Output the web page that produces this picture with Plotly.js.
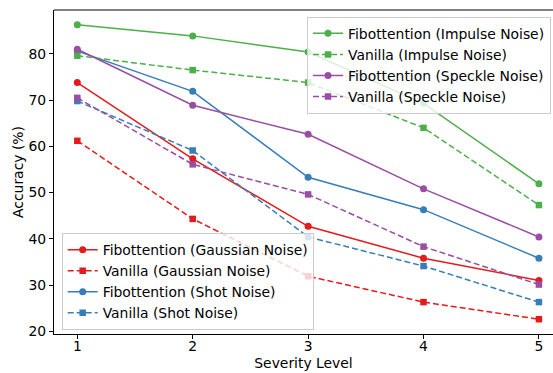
<!DOCTYPE html>
<html>
<head>
<meta charset="utf-8">
<script src="https://cdn.plot.ly/plotly-3.0.1.min.js"></script>
<style>html,body{margin:0;padding:0;background:#fff;}#chart{width:553px;height:373px;}</style>
</head>
<body>
<div id="chart"></div>
<script>
const severity = [1, 2, 3, 4, 5];
const tickVals = [1, 2, 3, 4, 5];
const tickText = ["1", "2", "3", "4", "5"];

const fibGaussian = [73.8, 57.3, 42.7, 35.8, 31.0];
const vanGaussian = [61.2, 44.3, 31.9, 26.3, 22.6];
const fibShot = [80.6, 71.9, 53.3, 46.3, 35.8];
const vanShot = [69.8, 59.1, 40.4, 34.1, 26.3];
const fibImpulse = [86.3, 83.9, 80.4, 69.3, 51.9];
const vanImpulse = [79.6, 76.5, 73.8, 64.0, 47.3];
const fibSpeckle = [81.0, 68.9, 62.6, 50.8, 40.4];
const vanSpeckle = [70.5, 56.1, 49.6, 38.3, 30.1];

const names = {
  fibGaussian: "Fibottention (Gaussian Noise)",
  vanGaussian: "Vanilla (Gaussian Noise)",
  fibShot: "Fibottention (Shot Noise)",
  vanShot: "Vanilla (Shot Noise)",
  fibImpulse: "Fibottention (Impulse Noise)",
  vanImpulse: "Vanilla (Impulse Noise)",
  fibSpeckle: "Fibottention (Speckle Noise)",
  vanSpeckle: "Vanilla (Speckle Noise)"
};

const RED = "#e41a1c", BLUE = "#377eb8", GREEN = "#4daf4a", PURPLE = "#984ea3";

function tr(y, name, color, vanilla, legend) {
  return {
    x: severity, y: y, name: name, type: "scatter", mode: "lines+markers",
    line: {color: color, width: 1.5, dash: vanilla ? "6px,3px" : "solid"},
    marker: {color: color, size: vanilla ? 6.5 : 7, symbol: vanilla ? "square" : "circle"},
    legend: legend
  };
}

const data = [
  tr(fibGaussian, names.fibGaussian, RED, false, "legend2"),
  tr(vanGaussian, names.vanGaussian, RED, true, "legend2"),
  tr(fibShot, names.fibShot, BLUE, false, "legend2"),
  tr(vanShot, names.vanShot, BLUE, true, "legend2"),
  tr(fibImpulse, names.fibImpulse, GREEN, false, "legend"),
  tr(vanImpulse, names.vanImpulse, GREEN, true, "legend"),
  tr(fibSpeckle, names.fibSpeckle, PURPLE, false, "legend"),
  tr(vanSpeckle, names.vanSpeckle, PURPLE, true, "legend")
];

const FONT = "DejaVu Sans, sans-serif";
const legendStyle = {
  bgcolor: "rgba(255,255,255,0.8)", bordercolor: "#cccccc", borderwidth: 1,
  font: {family: FONT, size: 13.9, color: "#000"}, tracegroupgap: 0
};

const layout = {
  width: 553, height: 373,
  margin: {l: 54, r: 0, t: 10, b: 39},
  paper_bgcolor: "#fff", plot_bgcolor: "#fff",
  font: {family: FONT, size: 13.9, color: "#000"},
  showlegend: true,
  xaxis: {
    range: [0.798, 5.122], tickvals: tickVals, ticktext: tickText,
    showgrid: false, zeroline: false, showline: true, linecolor: "#000", linewidth: 1,
    ticks: "outside", ticklen: 4, tickcolor: "#000", ticklabelstandoff: -5,
    title: {text: "Severity Level", font: {family: FONT, size: 13.9}, standoff: 5}
  },
  yaxis: {
    range: [19.4, 89.5], tickvals: [20, 30, 40, 50, 60, 70, 80],
    showgrid: false, zeroline: false, showline: true, linecolor: "#000", linewidth: 1,
    ticks: "outside", ticklen: 4, tickcolor: "#000",
    title: {text: "Accuracy (%)", font: {family: FONT, size: 13.9}, standoff: 1}
  },
  legend: Object.assign({x: 0.507, y: 0.979, xanchor: "left", yanchor: "top"}, legendStyle),
  legend2: Object.assign({x: 0.0154, y: 0.012, xanchor: "left", yanchor: "bottom"}, legendStyle),
  shapes: [{type: "line", xref: "paper", yref: "paper", x0: 0, x1: 1, y0: 1, y1: 1,
            line: {color: "#000", width: 1}}]
};

Plotly.newPlot("chart", data, layout, {displayModeBar: false, staticPlot: true});
</script>
</body>
</html>
